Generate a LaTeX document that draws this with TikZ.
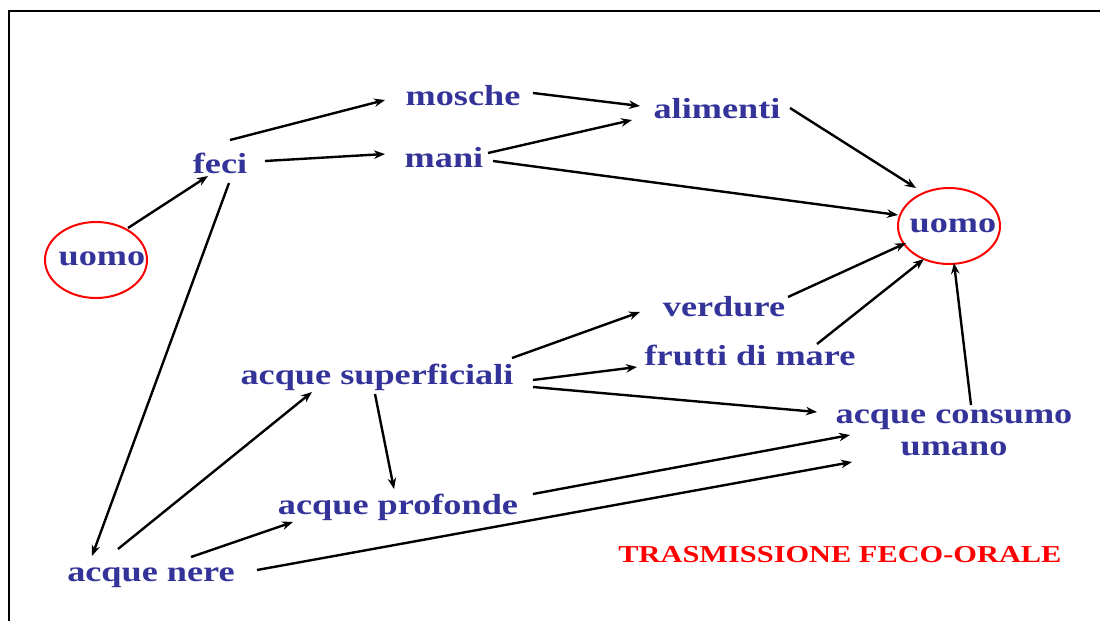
\documentclass[tikz,border=0pt]{standalone}
\usepackage{fontspec}
\setmainfont{Liberation Serif}
\newfontfamily\lbf[FakeStretch=1.25]{Liberation Serif}
\usetikzlibrary{arrows.meta,calc,shapes.geometric}
\definecolor{tblue}{HTML}{333399}
\definecolor{tred}{HTML}{FF0000}
\tikzset{
  lbl/.style={text=tblue,font=\lbf\bfseries\fontsize{29}{32}\selectfont,inner sep=0pt,align=center},
  ring/.style={draw=tred,line width=2pt},
  arr/.style={line width=2.4pt,-{Stealth[length=11pt,width=8.5pt]}},
  frame/.style={line width=2pt}
}
\begin{document}
\begin{tikzpicture}[x=1pt,y=-1pt]
\useasboundingbox (0,0) rectangle (1100,621);
\coordinate (ftl) at (9,11);
\coordinate (ftr) at (1100,11);
\coordinate (fbl) at (9,621);
\draw[frame] (fbl) -- (ftl) -- (ftr);

\node[lbl] (uomoL) at (102,259) {uomo};
\node[lbl] (uomoR) at (953,226) {uomo};
\draw[ring] ($(uomoL)+(-6,1)$) ellipse [x radius=51,y radius=38];
\draw[ring] ($(uomoR)+(-4,0)$) ellipse [x radius=51,y radius=38];
\node[lbl] (feci) at (220,163) {feci};
\node[lbl] (mosche) at (463,96) {mosche};
\node[lbl] (mani) at (444,158) {mani};
\node[lbl] (alimenti) at (717,109) {alimenti};
\node[lbl] (verdure) at (724,307) {verdure};
\node[lbl] (frutti) at (750,355) {frutti di mare};
\node[lbl] (sup) at (377,377) {acque superficiali};
\node[lbl] (consumo) at (954,433) {acque consumo\\umano};
\node[lbl] (prof) at (398,507) {acque profonde};
\node[lbl] (nere) at (151,578) {acque nere};
\node[text=tred,font=\lbf\bfseries\fontsize{24.3}{26}\selectfont,inner sep=0pt] (title) at (840,555) {TRASMISSIONE FECO-ORALE};

\draw[arr] ($(uomoL)+(26,-31)$) -- ($(feci)+(-12,13)$);
\draw[arr] ($(feci)+(10,-23)$) -- ($(mosche)+(-78,4)$);
\draw[arr] ($(feci)+(45,-2)$) -- ($(mani)+(-59,-4)$);
\draw[arr] ($(feci)+(9,20)$) -- ($(nere)+(-59,-22)$);
\draw[arr] ($(mosche)+(70,-3)$) -- ($(alimenti)+(-77,-3)$);
\draw[arr] ($(mani)+(44,-5)$) -- ($(alimenti)+(-85,11)$);
\draw[arr] ($(mani)+(49,3)$) -- ($(uomoR)+(-55,-11)$);
\draw[arr] ($(alimenti)+(73,-1)$) -- ($(uomoR)+(-37,-38)$);
\draw[arr] ($(verdure)+(64,-10)$) -- ($(uomoR)+(-47,17)$);
\draw[arr] ($(frutti)+(67,-11)$) -- ($(uomoR)+(-29,33)$);
\draw[arr] ($(consumo)+(17,-28)$) -- ($(uomoR)+(1,37)$);
\draw[arr] ($(sup)+(135,-19)$) -- ($(verdure)+(-84,5)$);
\draw[arr] ($(sup)+(156,3)$) -- ($(frutti)+(-113,12)$);
\draw[arr] ($(sup)+(156,10)$) -- ($(consumo)+(-137,-21)$);
\draw[arr] ($(sup)+(-2,17)$) -- ($(prof)+(-4,-18)$);
\draw[arr] ($(prof)+(135,-13)$) -- ($(consumo)+(-104,2)$);
\draw[arr] ($(nere)+(-33,-29)$) -- ($(sup)+(-65,15)$);
\draw[arr] ($(nere)+(40,-21)$) -- ($(prof)+(-105,15)$);
\draw[arr] ($(nere)+(106,-8)$) -- ($(consumo)+(-102,29)$);
\end{tikzpicture}
\end{document}
